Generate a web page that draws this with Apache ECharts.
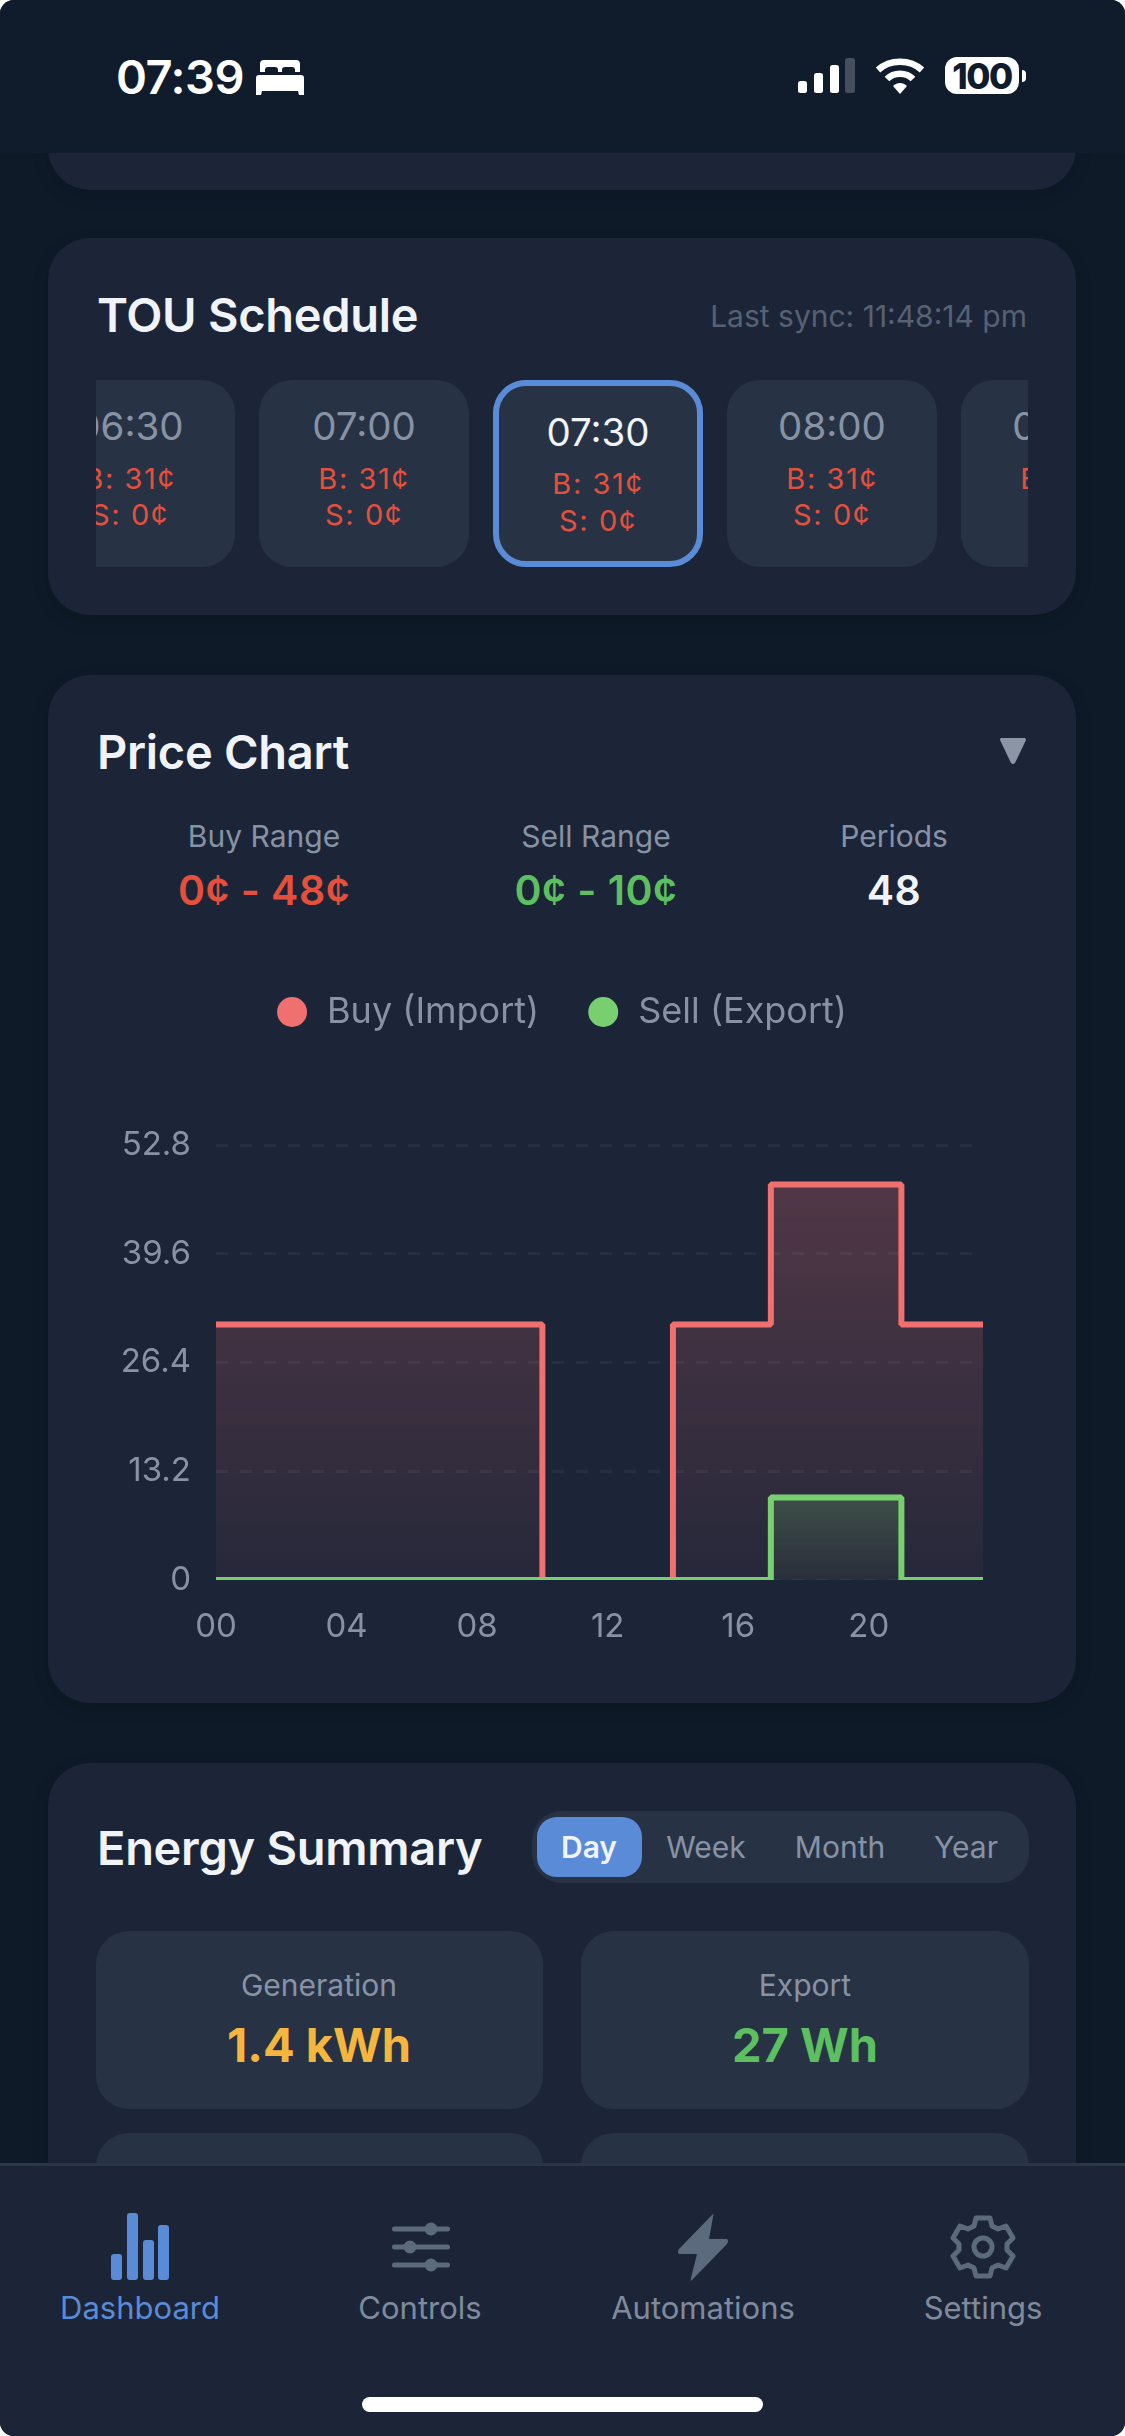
<!DOCTYPE html>
<html lang="en">
<head>
    <meta charset="UTF-8">
    <script type="text/javascript" src="https://cdn.jsdelivr.net/npm/echarts@6/dist/echarts.min.js"></script>
    <style>
        html, body {
            margin: 0;
            background: #fff;
            overflow: hidden;
        }
        #screen {
            position: absolute;
            left: 0; top: 0;
            width: 1125px; height: 2436px;
            background: #0e1a28;
            border-radius: 14px;
            overflow: hidden;
            font-family: Inter, "Noto Sans", sans-serif;
            color: #f0f3f8;
        }
        .box { position: absolute; box-sizing: border-box; }
        .card { background: #1c2538; border-radius: 42px; left: 48px; width: 1028px; box-shadow: 0 6px 18px rgba(0,0,0,.12); }
        .tile { background: #273345; border-radius: 33px; }
        .t { position: absolute; white-space: nowrap; transform: translate(-50%, -50%); line-height: 1; }
        .l { position: absolute; white-space: nowrap; transform: translateY(-50%); line-height: 1; }
        .title { font-size: 47px; font-weight: 600; letter-spacing: -0.3px; }
        .time { font-size: 38.5px; color: #8793a5; }
        .rate { font-size: 29px; letter-spacing: 1.6px; color: #e5503d; }
        .label { font-size: 30px; color: #8793a5; }
        .val { font-size: 41px; font-weight: 600; letter-spacing: 0.5px; }
        .seg { font-size: 30px; color: #8793a5; }
        .big { font-size: 47px; font-weight: 700; }
        .nav { font-size: 31px; color: #7f8b9d; }
        #chart { position: absolute; left: 48px; top: 880px; width: 1028px; height: 820px; }
    </style>
</head>
<body>
<div id="screen">
    <div class="box" style="left:0;top:0;width:1125px;height:153px;background:#101c2b"></div>

    <!-- status bar -->
    <div class="l" style="left:116px;top:76px;font-size:47px;font-weight:600;color:#fff;letter-spacing:-0.5px">07:39</div>
    <svg class="box" style="left:256px;top:60px" width="48" height="36" viewBox="0 0 48 36" fill="#fff">
        <path d="M4 3a4 4 0 0 1 4-3h32a4 4 0 0 1 4 3v9h-5v-2a3 3 0 0 0-3-3h-7a3 3 0 0 0-3 3v2h-4v-2a3 3 0 0 0-3-3h-7a3 3 0 0 0-3 3v2H4z"/>
        <path d="M3 15h42a3 3 0 0 1 3 3v17h-5l-1-4H6l-1 4H0V18a3 3 0 0 1 3-3z"/>
    </svg>
    <svg class="box" style="left:798px;top:58px" width="58" height="36" fill="#fff">
        <rect x="0" y="23" width="9" height="12" rx="2.5"/>
        <rect x="16" y="15" width="9" height="20" rx="2.5"/>
        <rect x="32" y="7" width="9" height="28" rx="2.5"/>
        <rect x="47" y="0" width="10" height="35" rx="2.5" fill="#444e5c"/>
    </svg>
    <svg class="box" style="left:875px;top:57px" width="50" height="38" viewBox="0 0 50 38" fill="none" stroke="#fff" stroke-width="6.5">
        <path d="M3 13 C15 2 35 2 47 13"/>
        <path d="M12 22 C19 15 31 15 38 22"/>
        <path d="M18 29 L25 37 L32 29 C28 25 22 25 18 29 Z" fill="#fff" stroke="none"/>
    </svg>
    <div class="box" style="left:945px;top:57px;width:74px;height:37px;background:#fff;border-radius:12px"></div>
    <div class="box" style="left:1022px;top:70px;width:4px;height:12px;background:#fff;border-radius:0 4px 4px 0"></div>
    <div class="t" style="left:982px;top:76px;font-size:35px;font-weight:800;color:#101c2b;letter-spacing:-1.5px">100</div>

    <!-- card cut off by the header -->
    <div class="box card" style="top:60px;height:130px;clip-path:inset(93px -30px -30px -30px)"></div>

    <!-- TOU schedule -->
    <div class="box card" style="top:238px;height:377px"></div>
    <div class="l title" style="left:97px;top:314px">TOU Schedule</div>
    <div class="l" style="right:98px;top:316px;font-size:30px;color:#566173">Last sync: 11:48:14 pm</div>
    <div class="box" style="left:96px;top:380px;width:932px;height:187px;overflow:hidden">
        <div class="box tile" style="left:-73px;top:0;width:212px;height:187px"></div>
        <div class="t time" style="left:34px;top:46px">06:30</div>
        <div class="t rate" style="left:34px;top:98px">B: 31¢</div>
        <div class="t rate" style="left:34px;top:134px">S: 0¢</div>
        <div class="box tile" style="left:163px;top:0;width:210px;height:187px"></div>
        <div class="t time" style="left:268px;top:46px">07:00</div>
        <div class="t rate" style="left:268px;top:98px">B: 31¢</div>
        <div class="t rate" style="left:268px;top:134px">S: 0¢</div>
        <div class="box tile" style="left:397px;top:0;width:210px;height:187px;border:6px solid #5a8bd6"></div>
        <div class="t time" style="left:502px;top:52px;color:#f0f3f8">07:30</div>
        <div class="t rate" style="left:502px;top:103px">B: 31¢</div>
        <div class="t rate" style="left:502px;top:140px">S: 0¢</div>
        <div class="box tile" style="left:631px;top:0;width:210px;height:187px"></div>
        <div class="t time" style="left:736px;top:46px">08:00</div>
        <div class="t rate" style="left:736px;top:98px">B: 31¢</div>
        <div class="t rate" style="left:736px;top:134px">S: 0¢</div>
        <div class="box tile" style="left:865px;top:0;width:210px;height:187px"></div>
        <div class="t time" style="left:970px;top:46px">08:30</div>
        <div class="t rate" style="left:970px;top:98px">B: 31¢</div>
        <div class="t rate" style="left:970px;top:134px">S: 0¢</div>
    </div>

    <!-- price chart -->
    <div class="box card" style="top:675px;height:1028px"></div>
    <div class="l title" style="left:97px;top:751px">Price Chart</div>
    <svg class="box" style="left:1000px;top:738px" width="26" height="26"><path d="M1 0H25Q26 0 26 2L15 25Q13 27 11 25L0 2Q0 0 1 0Z" fill="#8b95a5"/></svg>
    <div class="t label" style="left:264px;top:836px">Buy Range</div>
    <div class="t val" style="left:264px;top:890px;color:#e5503d">0¢ - 48¢</div>
    <div class="t label" style="left:596px;top:836px">Sell Range</div>
    <div class="t val" style="left:596px;top:890px;color:#5cbf60">0¢ - 10¢</div>
    <div class="t label" style="left:894px;top:836px">Periods</div>
    <div class="t val" style="left:894px;top:890px">48</div>
    <div id="chart"></div>

    <!-- energy summary -->
    <div class="box card" style="top:1763px;height:800px"></div>
    <div class="l title" style="left:97px;top:1847px">Energy Summary</div>
    <div class="box" style="left:532px;top:1811px;width:497px;height:72px;background:#273345;border-radius:30px"></div>
    <div class="box" style="left:537px;top:1817px;width:105px;height:60px;background:#5a8bd6;border-radius:20px"></div>
    <div class="t seg" style="left:589px;top:1847px;color:#f0f3f8;font-weight:600">Day</div>
    <div class="t seg" style="left:706px;top:1847px">Week</div>
    <div class="t seg" style="left:840px;top:1847px">Month</div>
    <div class="t seg" style="left:966px;top:1847px">Year</div>
    <div class="box tile" style="left:96px;top:1931px;width:447px;height:178px"></div>
    <div class="box tile" style="left:581px;top:1931px;width:448px;height:178px"></div>
    <div class="box tile" style="left:96px;top:2133px;width:447px;height:178px"></div>
    <div class="box tile" style="left:581px;top:2133px;width:448px;height:178px"></div>
    <div class="t label" style="left:319px;top:1985px">Generation</div>
    <div class="t big" style="left:319px;top:2044px;color:#f4b63f">1.4 kWh</div>
    <div class="t label" style="left:805px;top:1985px">Export</div>
    <div class="t big" style="left:805px;top:2044px;color:#5cbf60">27 Wh</div>

    <!-- tab bar -->
    <div class="box" style="left:0;top:2163px;width:1125px;height:273px;background:#1c2538;border-top:3px solid #2a3548"></div>
    <svg class="box" style="left:105px;top:2210px" width="70" height="72" fill="#5a8bd6">
        <rect x="6" y="44" width="11" height="26" rx="3"/>
        <rect x="22" y="3" width="11" height="67" rx="3"/>
        <rect x="38" y="30" width="11" height="40" rx="3"/>
        <rect x="53" y="15" width="11" height="55" rx="3"/>
    </svg>
    <svg class="box" style="left:390px;top:2215px" width="62" height="64" fill="#5c6a7d" stroke="none">
        <rect x="2" y="11.5" width="58" height="5" rx="2.5"/>
        <rect x="2" y="29.5" width="58" height="5" rx="2.5"/>
        <rect x="2" y="47.5" width="58" height="5" rx="2.5"/>
        <circle cx="41" cy="14" r="6.5"/><circle cx="20" cy="32" r="6.5"/><circle cx="41" cy="50" r="6.5"/>
    </svg>
    <svg class="box" style="left:676px;top:2212px" width="54" height="70" fill="#5c6a7d">
        <path d="M36 3 Q38 0 37 5 L33 27 L51 27 Q53 29 51 32 L16 68 Q14 70 15 66 L21 42 L3 42 Q1 40 3 37 Z"/>
    </svg>
    <svg class="box" style="left:950px;top:2214px" width="66" height="66" viewBox="-33 -33 66 66" fill="none" stroke="#5c6a7d" stroke-width="5" stroke-linejoin="round">
        <path d="M-7 -29 H7 L9 -21 L15 -18 L23 -21 L30 -9 L24 -3 V3 L30 9 L23 21 L15 18 L9 21 L7 29 H-7 L-9 21 L-15 18 L-23 21 L-30 9 L-24 3 V-3 L-30 -9 L-23 -21 L-15 -18 L-9 -21 Z"/>
        <circle r="9"/>
    </svg>
    <div class="t nav" style="left:140px;top:2307px;color:#5a8bd6">Dashboard</div>
    <div class="t nav" style="left:420px;top:2307px">Controls</div>
    <div class="t nav" style="left:703px;top:2307px">Automations</div>
    <div class="t nav" style="left:983px;top:2307px">Settings</div>
    <div class="box" style="left:362px;top:2397px;width:401px;height:15px;background:#fff;border-radius:8px"></div>
</div>

<script>
    var hours = [
        '00:00', '00:30', '01:00', '01:30', '02:00', '02:30', '03:00', '03:30',
        '04:00', '04:30', '05:00', '05:30', '06:00', '06:30', '07:00', '07:30',
        '08:00', '08:30', '09:00', '09:30', '10:00', '10:30', '11:00', '11:30',
        '12:00', '12:30', '13:00', '13:30', '14:00', '14:30', '15:00', '15:30',
        '16:00', '16:30', '17:00', '17:30', '18:00', '18:30', '19:00', '19:30',
        '20:00', '20:30', '21:00', '21:30', '22:00', '22:30', '23:00', '23:30'
    ];
    var buyPrice = [
        31, 31, 31, 31, 31, 31, 31, 31,
        31, 31, 31, 31, 31, 31, 31, 31,
        31, 31, 31, 31, 0, 0, 0, 0,
        0, 0, 0, 0, 31, 31, 31, 31,
        31, 31, 48, 48, 48, 48, 48, 48,
        48, 48, 31, 31, 31, 31, 31, 31
    ];
    var sellPrice = [
        0, 0, 0, 0, 0, 0, 0, 0,
        0, 0, 0, 0, 0, 0, 0, 0,
        0, 0, 0, 0, 0, 0, 0, 0,
        0, 0, 0, 0, 0, 0, 0, 0,
        0, 0, 10, 10, 10, 10, 10, 10,
        10, 10, 0, 0, 0, 0, 0, 0
    ];

    function fade(r, g, b, top, bottom) {
        return new echarts.graphic.LinearGradient(0, 0, 0, 1, [
            { offset: 0, color: 'rgba(' + r + ',' + g + ',' + b + ',' + top + ')' },
            { offset: 1, color: 'rgba(' + r + ',' + g + ',' + b + ',' + bottom + ')' }
        ]);
    }

    var myChart = echarts.init(document.getElementById('chart'));
    myChart.setOption({
        animation: false,
        textStyle: { fontFamily: 'Inter' },
        legend: {
            top: 109,
            left: 'center',
            icon: 'circle',
            itemWidth: 30,
            itemHeight: 30,
            itemGap: 49,
            textStyle: { color: '#8793a5', fontSize: 36, padding: [0, 0, 0, 15] }
        },
        grid: { left: 168, right: 93, top: 265, bottom: 120 },
        // the lines are cut at the plot edge in the original, so hide the lower half of the stroke
        graphic: [{
            type: 'rect',
            left: 160,
            top: 700,
            z: 100,
            shape: { width: 790, height: 5 },
            style: { fill: '#1c2538' }
        }],
        xAxis: {
            type: 'category',
            data: hours,
            boundaryGap: false,
            axisLine: { show: false },
            axisTick: { show: false },
            axisLabel: {
                interval: 7,
                color: '#8793a5',
                fontSize: 33,
                margin: 31,
                formatter: function (v) { return v.substr(0, 2); }
            }
        },
        yAxis: {
            type: 'value',
            min: 0,
            max: 52.8,
            interval: 13.2,
            axisLabel: { color: '#8793a5', fontSize: 33, margin: 25, padding: [10, 0, 0, 0] },
            splitLine: { lineStyle: { color: '#262f41', width: 3, type: [12, 12] } }
        },
        series: [
            {
                name: 'Buy (Import)',
                type: 'line',
                step: 'end',
                data: buyPrice,
                showSymbol: false,
                itemStyle: { color: '#f07070' },
                lineStyle: { color: '#f07070', width: 6 },
                areaStyle: { color: fade(240, 112, 112, 0.36, 0.07) }
            },
            {
                name: 'Sell (Export)',
                type: 'line',
                step: 'end',
                data: sellPrice,
                showSymbol: false,
                itemStyle: { color: '#78cf70' },
                lineStyle: { color: '#78cf70', width: 6 },
                areaStyle: { color: fade(120, 207, 112, 0.3, 0.05) }
            }
        ]
    });
</script>
</body>
</html>
